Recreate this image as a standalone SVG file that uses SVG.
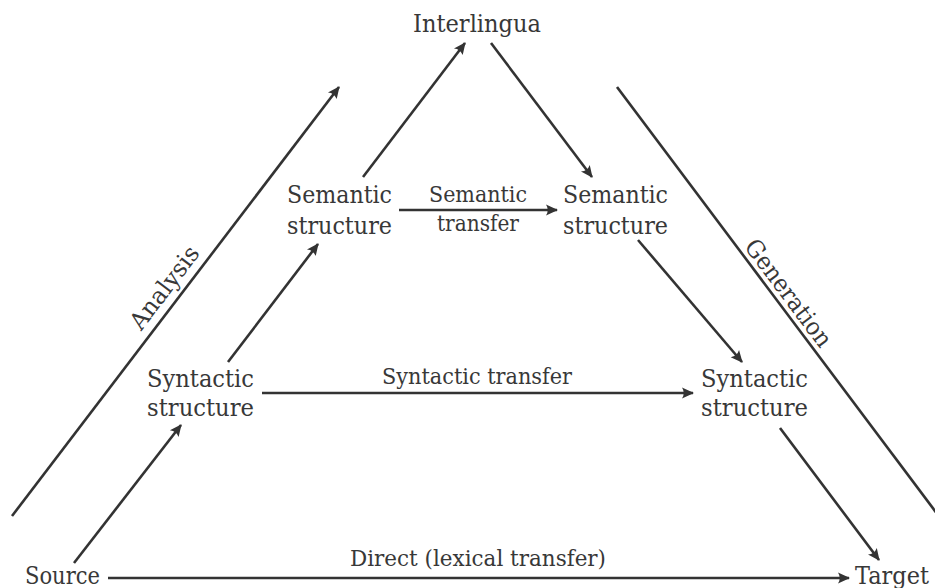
<svg xmlns="http://www.w3.org/2000/svg" width="935" height="588" viewBox="0 0 935 588">
<defs>
<marker id="arr" markerUnits="userSpaceOnUse" markerWidth="16" markerHeight="14" viewBox="-13 -7 14 14" refX="0" refY="0" orient="auto">
<path d="M1,0 L-11,-5.5 Q-7.5,0 -11,5.5 Z" fill="#333"/>
</marker>
<style>
.n{font-size:24px;}
.l{font-size:22px;}
.c line{stroke:#333;stroke-width:2.6;fill:none;}
.a{marker-end:url(#arr);}
</style>
</defs>
<rect width="935" height="588" fill="#fff"/>
<g class="c" id="connectors">
<line class="a" x1="12" y1="516" x2="339" y2="87"/>
<line x1="617" y1="87" x2="938" y2="515"/>
<line class="a" x1="74" y1="563" x2="181" y2="425"/>
<line class="a" x1="228" y1="362" x2="318" y2="244"/>
<line class="a" x1="363" y1="177" x2="465" y2="43"/>
<line class="a" x1="491" y1="43" x2="592" y2="177"/>
<line class="a" x1="638" y1="240" x2="742" y2="362"/>
<line class="a" x1="780" y1="428" x2="879" y2="560"/>
<line class="a" x1="399" y1="210" x2="557" y2="210"/>
<line class="a" x1="262" y1="393" x2="693" y2="393"/>
<line class="a" x1="108" y1="578" x2="849" y2="578"/>
</g>
<g font-family="DejaVu Serif, serif" fill="#383838" font-weight="normal">
<g id="interlingua"><text class="n" x="413" y="32" textLength="128" lengthAdjust="spacingAndGlyphs">Interlingua</text></g>
<g id="semantic-source"><text class="n" x="287" y="203" textLength="105" lengthAdjust="spacingAndGlyphs">Semantic</text><text class="n" x="287" y="234" textLength="105" lengthAdjust="spacingAndGlyphs">structure</text></g>
<g id="semantic-target"><text class="n" x="563" y="203" textLength="105" lengthAdjust="spacingAndGlyphs">Semantic</text><text class="n" x="563" y="234" textLength="105" lengthAdjust="spacingAndGlyphs">structure</text></g>
<g id="syntactic-source"><text class="n" x="147" y="387" textLength="107" lengthAdjust="spacingAndGlyphs">Syntactic</text><text class="n" x="147" y="416" textLength="107" lengthAdjust="spacingAndGlyphs">structure</text></g>
<g id="syntactic-target"><text class="n" x="701" y="387" textLength="107" lengthAdjust="spacingAndGlyphs">Syntactic</text><text class="n" x="701" y="416" textLength="107" lengthAdjust="spacingAndGlyphs">structure</text></g>
<g id="source"><text class="n" x="25" y="584" textLength="75" lengthAdjust="spacingAndGlyphs">Source</text></g>
<g id="target"><text class="n" x="855" y="584" textLength="74" lengthAdjust="spacingAndGlyphs">Target</text></g>
<g id="labels">
<text class="l" x="429" y="202" textLength="98" lengthAdjust="spacingAndGlyphs">Semantic</text>
<text class="l" x="437" y="231" textLength="82" lengthAdjust="spacingAndGlyphs">transfer</text>
<text class="l" x="382" y="384" textLength="190" lengthAdjust="spacingAndGlyphs">Syntactic transfer</text>
<text class="l" x="350" y="566" textLength="256" lengthAdjust="spacingAndGlyphs">Direct (lexical transfer)</text>
<text class="n" transform="translate(178,298) rotate(-52.7)" x="0" y="-9" text-anchor="middle" textLength="98" lengthAdjust="spacingAndGlyphs">Analysis</text>
<text class="n" transform="translate(778,301) rotate(53.1)" x="0" y="-5" text-anchor="middle" textLength="128" lengthAdjust="spacingAndGlyphs">Generation</text>
</g>
</g>
</svg>
